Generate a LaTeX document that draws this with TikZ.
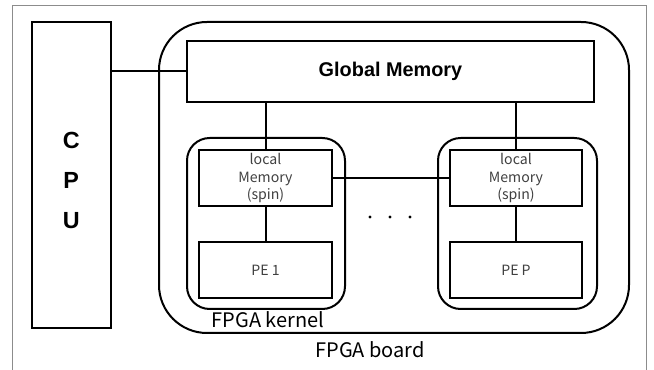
\documentclass[tikz,border=0pt]{standalone}
\usepackage{fontspec}
\setmainfont{Noto Sans CJK JP}
\newfontfamily\boldsans{Liberation Sans}[BoldFont={Liberation Sans Bold}]
\begin{document}
\begin{tikzpicture}[x=0.75pt,y=-0.75pt,
  blk/.style={draw=black,line width=1.5pt,rectangle,inner sep=0pt},
  conn/.style={draw=black,line width=1.5pt},
  innertext/.style={text=black!75,font=\fontsize{10.6}{13.1}\selectfont,align=center},
  labeltext/.style={font=\fontsize{15}{18}\selectfont,inner sep=0pt}]
\useasboundingbox (0,0) rectangle (654,370);
\draw[black!45,line width=0.7pt] (12,380) -- (12,5) -- (646,5) -- (646,380);
% board and kernels
\node[blk,rounded corners=36pt,minimum width=352.5pt,minimum height=233.25pt] (board) at (394,177.5) {};
\node[blk,minimum width=58.9pt,minimum height=229.5pt] (cpu) at (71.25,175) {};
\node[font=\boldsans\bfseries\fontsize{17.5}{30}\selectfont,align=center] (cputext) at (71.25,180) {C\\[0pt]P\\[0pt]U};
\node[blk,minimum width=305.25pt,minimum height=45.75pt,font=\boldsans\bfseries\fontsize{14.9}{18}\selectfont] (gm) at (390.5,71.5) {Global Memory};
\node[blk,rounded corners=17pt,minimum width=118.5pt,minimum height=128.25pt] (kl) at (266,223.5) {};
\node[blk,rounded corners=17pt,minimum width=119.25pt,minimum height=128.25pt] (kr) at (517.5,223.5) {};
\node[blk,minimum width=99.75pt,minimum height=42pt,innertext] (lml) at (265.5,178) {local\\Memory\\(spin)};
\node[blk,minimum width=99pt,minimum height=42pt,innertext] (lmr) at (516,178) {local\\Memory\\(spin)};
\node[blk,minimum width=99.75pt,minimum height=42pt,innertext] (pel) at (265.5,270) {PE 1};
\node[blk,minimum width=99pt,minimum height=42pt,innertext] (per) at (516,270) {PE P};
\node[labeltext] (klabel) at (268,320) {FPGA kernel};
\node[labeltext] (blabel) at (370,350) {FPGA board};
% connectors
\draw[conn] (cpu.east |- gm.west) -- (gm.west);
\draw[conn] (lml.north |- gm.south) -- (lml.north);
\draw[conn] (lmr.north |- gm.south) -- (lmr.north);
\draw[conn] (lml.south) -- (pel.north);
\draw[conn] (lmr.south) -- (per.north);
\draw[conn] (lml.east) -- (lmr.west);
% dots
\fill (370,217) circle (1.6);
\fill (390,217) circle (1.6);
\fill (410,217) circle (1.6);
\end{tikzpicture}
\end{document}
